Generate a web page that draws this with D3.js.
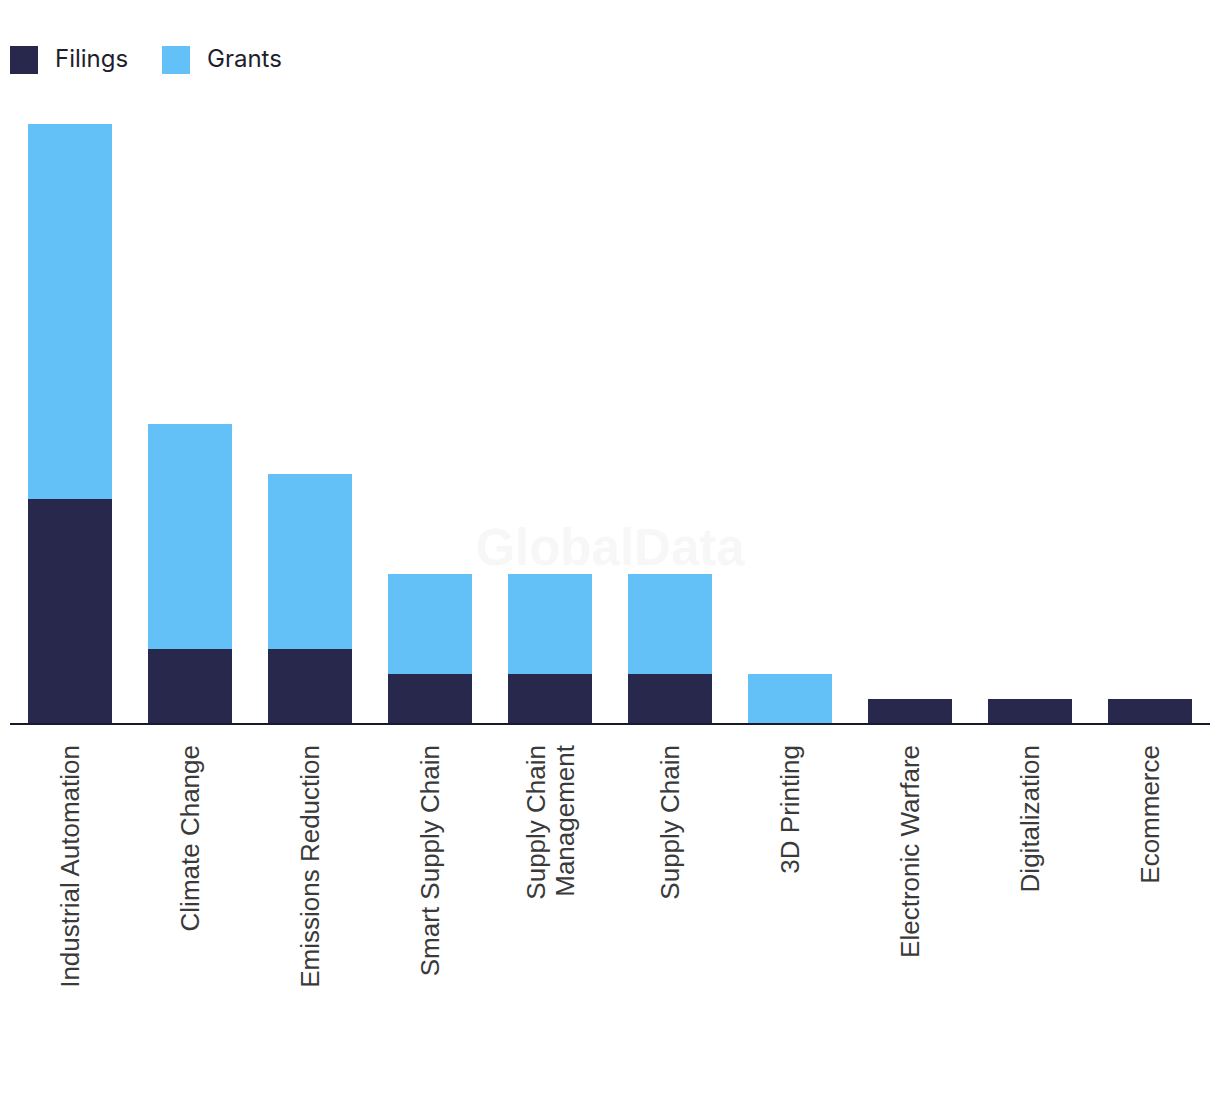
<!DOCTYPE html>
<html><head><meta charset="utf-8">
<script src="https://cdn.jsdelivr.net/npm/d3@7"></script>
<style>body{margin:0;background:#fff;}svg{display:block;}</style>
</head><body>
<svg id="chart" width="1220" height="1094"></svg>
<script>
const categories = ["Industrial Automation","Climate Change","Emissions Reduction","Smart Supply Chain","Supply Chain Management","Supply Chain","3D Printing","Electronic Warfare","Digitalization","Ecommerce"];
const labelLines = [["Industrial Automation"],["Climate Change"],["Emissions Reduction"],["Smart Supply Chain"],["Supply Chain","Management"],["Supply Chain"],["3D Printing"],["Electronic Warfare"],["Digitalization"],["Ecommerce"]];
const filings = [9,3,3,2,2,2,0,1,1,1];
const grants = [15,9,7,4,4,4,2,0,0,0];
const seriesNames = ["Filings","Grants"];
const colors = ["#27284c","#63c1f8"];

const svg = d3.select("#chart");
const x = d3.scaleBand().domain(categories).range([10,1210]).paddingInner(0.3).paddingOuter(0.15);
const y = d3.scaleLinear().domain([0,24]).range([724,124]);

svg.append("text").attr("x",610).attr("y",565).attr("text-anchor","middle")
  .attr("font-family","Liberation Sans, Arial, sans-serif").attr("font-weight","bold")
  .attr("font-size",51).attr("fill","#f7f7f7").text("GlobalData");

const rows = categories.map((c,i)=>({cat:c,Filings:filings[i],Grants:grants[i]}));
const stack = d3.stack().keys(seriesNames)(rows);
svg.append("g").selectAll("g").data(stack).join("g").attr("fill",(d,i)=>colors[i])
  .selectAll("rect").data(d=>d).join("rect")
  .attr("x",d=>x(d.data.cat)).attr("width",x.bandwidth())
  .attr("y",d=>y(d[1])).attr("height",d=>y(d[0])-y(d[1]));

const axis = svg.append("g").attr("transform","translate(0,724)").call(d3.axisBottom(x).tickSize(0).tickFormat(""));
axis.select(".domain").attr("stroke","#1a1a2e").attr("stroke-width",2).attr("d","M10,0H1210");

const lab = svg.append("g");
categories.forEach((c,i)=>{
  const lines = labelLines[i];
  const cx = x(c)+x.bandwidth()/2;
  const lh = 29;
  const t = lab.append("text").attr("transform",`translate(${cx},745) rotate(-90)`)
    .attr("text-anchor","end").attr("font-family","Liberation Sans, Arial, sans-serif")
    .attr("font-size",26).attr("fill","#3a3a3a");
  lines.forEach((ln,j)=>{
    const off = (j-(lines.length-1)/2)*lh + 9;
    t.append("tspan").attr("x",0).attr("y",off).text(ln);
  });
});

const leg = svg.append("g");
const legX = [10,162];
seriesNames.forEach((s,i)=>{
  leg.append("rect").attr("x",legX[i]).attr("y",46).attr("width",28).attr("height",28).attr("fill",colors[i]);
  leg.append("text").attr("x",legX[i]+45).attr("y",67).attr("font-family","Inter, Roboto, sans-serif")
    .attr("font-size",24).attr("fill","#1e1e2e").text(s);
});
</script>
</body></html>
